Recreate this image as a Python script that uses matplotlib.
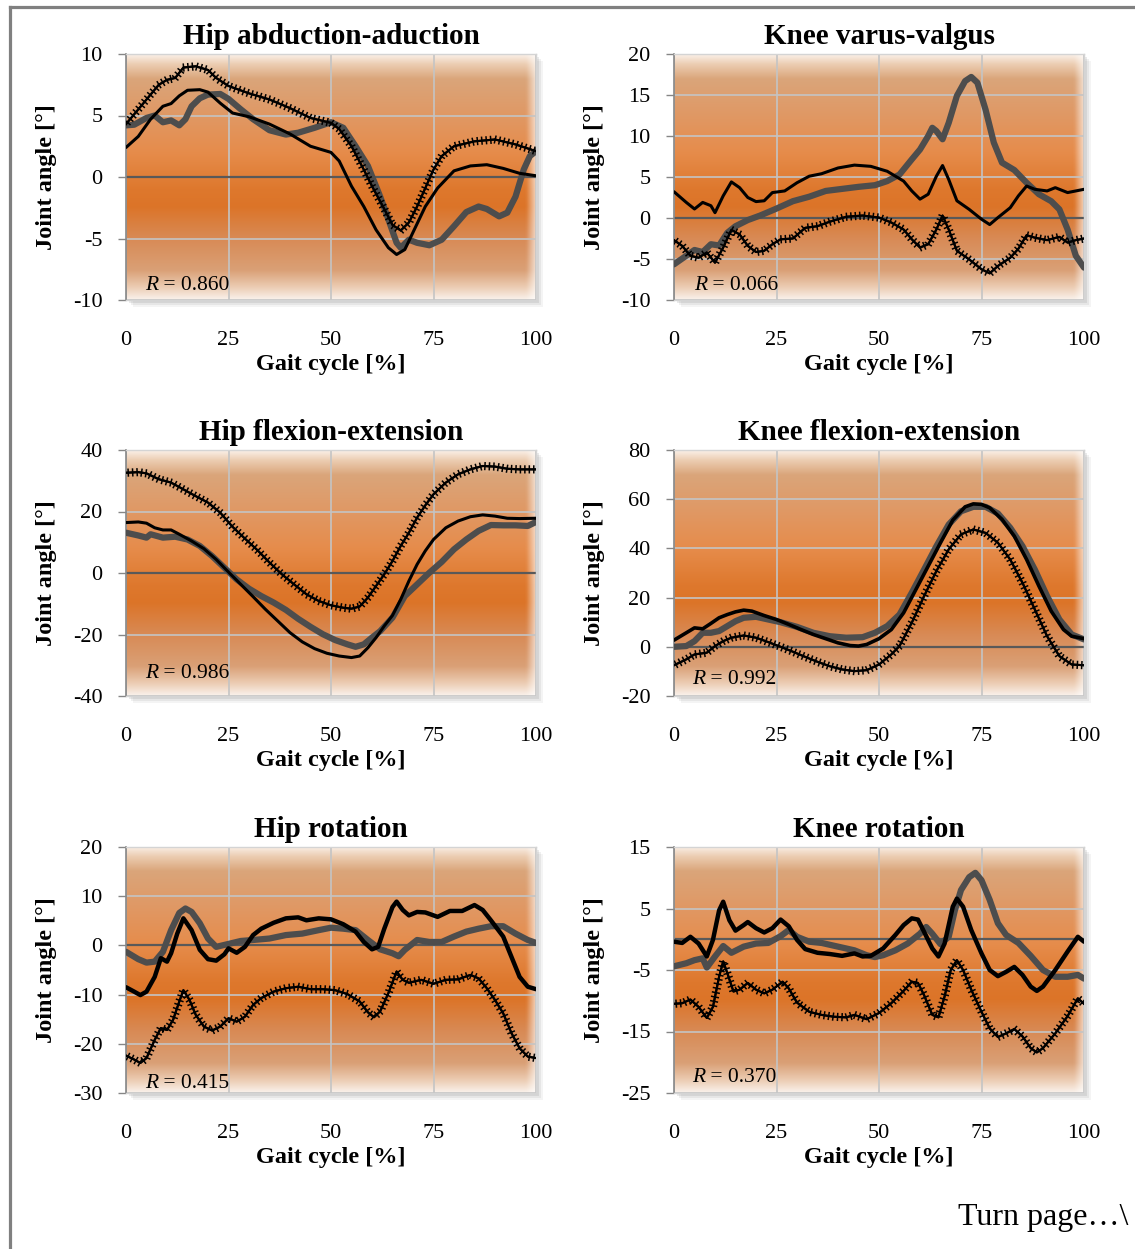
import numpy as np
import matplotlib
matplotlib.use("Agg")
import matplotlib.pyplot as plt
import matplotlib.patheffects as pe
from matplotlib.lines import Line2D
from matplotlib.patches import Rectangle
from matplotlib.transforms import ScaledTranslation

plt.rcParams['font.family'] = ['Liberation Serif', 'DejaVu Serif']
plt.rcParams['axes.unicode_minus'] = False

# ---------------- data ----------------
titles = ["Hip abduction-aduction", "Knee varus-valgus",
          "Hip flexion-extension", "Knee flexion-extension",
          "Hip rotation", "Knee rotation"]
r_values = ["0.860", "0.066", "0.986", "0.992", "0.415", "0.370"]
y_limits = [(-10, 10), (-10, 20), (-40, 40), (-20, 80), (-30, 20), (-25, 15)]
y_steps = [5, 5, 20, 20, 10, 10]
x_ticks = [0, 25, 50, 75, 100]
x_label = "Gait cycle [%]"
y_label = "Joint angle [°]"
footer = "Turn page…\\"

# Hip abduction-aduction
habd_gray_x = [0, 2, 5, 7, 9, 11, 13, 14.5, 16, 18, 20, 23, 25, 28, 31, 35, 39, 42, 46, 50,
               53, 56, 59, 62, 64, 66, 67, 69, 71, 74, 77, 80, 83, 86, 88, 91, 93, 95, 97, 98.5, 100]
habd_gray_y = [4.2, 4.25, 4.8, 5.0, 4.45, 4.6, 4.2, 4.7, 5.75, 6.4, 6.7, 6.75, 6.35, 5.5, 4.7, 3.8, 3.45, 3.6, 4.0, 4.45,
               4.0, 2.5, 0.9, -1.6, -3.45, -5.35, -5.75, -5.1, -5.35, -5.55, -5.1, -4.0, -2.85, -2.4, -2.6, -3.2, -2.9, -1.6, 0.6, 1.7, 2.1]
habd_black_x = [0, 3, 6, 9, 11, 13, 15, 18, 20, 23, 26, 30, 35, 40, 45, 50, 52, 55, 58, 61,
                64, 66, 68, 70, 73, 76, 80, 84, 88, 92, 96, 100]
habd_black_y = [2.4, 3.3, 4.7, 5.75, 5.97, 6.6, 7.05, 7.1, 6.9, 6.0, 5.2, 4.9, 4.3, 3.5, 2.5, 2.0, 1.3, -0.75, -2.4, -4.3,
                -5.75, -6.3, -5.9, -4.5, -2.4, -0.9, 0.5, 0.9, 1.0, 0.7, 0.3, 0.1]
habd_plus_x = [0, 5, 8, 10, 12, 14, 17, 20, 22, 25, 30, 35, 40, 45, 50, 52, 55, 58, 60, 63,
               65, 67, 69, 71, 73, 75, 77, 80, 85, 90, 95, 100]
habd_plus_y = [4.3, 6.3, 7.5, 7.9, 8.05, 8.9, 9.0, 8.7, 8.05, 7.4, 6.8, 6.3, 5.6, 4.8, 4.4, 3.9, 2.5, 0.6, -0.75, -2.6,
               -3.9, -4.35, -3.7, -2.4, -0.9, 0.6, 1.7, 2.5, 2.9, 3.05, 2.65, 2.1]

# Knee varus-valgus
kvv_gray_x = [0, 3, 5, 7, 9, 11, 13, 15, 18, 21, 25, 29, 33, 37, 41, 45, 49, 52, 55, 58,
              60, 62, 63, 64, 65.5, 67, 69, 71, 72.5, 74, 76, 78, 80, 83, 86, 89, 92, 94, 96, 98, 100]
kvv_gray_y = [-5.65, -4.6, -3.9, -4.15, -3.2, -3.35, -1.8, -1.0, -0.25, 0.3, 1.15, 2.05, 2.6, 3.3, 3.55, 3.8, 4.0, 4.5, 5.3, 7.15,
              8.35, 10.0, 11.0, 10.6, 9.6, 11.6, 14.9, 16.7, 17.2, 16.5, 13.2, 9.2, 6.75, 5.85, 4.3, 2.9, 2.05, 1.05, -1.4, -4.6, -6.05]
kvv_black_x = [0, 3, 5, 7, 9, 10, 12, 14, 16, 18, 20, 22, 24, 27, 30, 33, 36, 40, 44, 48,
               52, 56, 58, 60, 62, 64, 65.5, 67, 69, 72, 75, 77, 79, 82, 84, 86, 88, 91, 93, 96, 100]
kvv_black_y = [3.2, 1.9, 1.1, 1.9, 1.5, 0.65, 2.7, 4.4, 3.7, 2.5, 2.0, 2.1, 3.1, 3.3, 4.3, 5.1, 5.4, 6.1, 6.45, 6.3,
               5.7, 4.5, 3.3, 2.3, 2.9, 5.1, 6.4, 4.7, 2.1, 1.05, -0.15, -0.8, 0.05, 1.25, 2.7, 3.9, 3.5, 3.3, 3.7, 3.1, 3.5]
kvv_plus_x = [0, 2, 4, 6, 8, 10, 12, 14, 16, 18, 20, 22, 24, 26, 29, 32, 35, 38, 42, 46,
              50, 53, 56, 58, 60, 62, 64, 65.5, 67, 69, 72, 75, 77, 79, 82, 84, 86, 88, 91, 94, 96, 98, 100]
kvv_plus_y = [-2.7, -3.4, -4.6, -4.85, -4.2, -5.45, -3.6, -1.45, -2.0, -3.4, -4.15, -4.0, -3.2, -2.6, -2.5, -1.2, -1.0, -0.45, 0.15, 0.3,
              0.05, -0.55, -1.4, -2.6, -3.6, -3.2, -1.4, 0.3, -1.4, -4.0, -5.05, -6.25, -6.75, -5.85, -4.85, -3.75, -2.1, -2.4, -2.7, -2.3, -3.0, -2.7, -2.5]

# Hip flexion-extension
hfe_gray_x = [0, 3, 5, 6, 9, 12, 15, 18, 21, 24, 27, 30, 33, 36, 39, 42, 45, 48, 51, 54,
              56, 58, 60, 62, 65, 68, 71, 74, 77, 80, 83, 86, 89, 92, 95, 98, 100]
hfe_gray_y = [13.1, 12.2, 11.5, 12.6, 11.5, 11.8, 10.9, 8.8, 5.5, 1.7, -2.1, -5.1, -7.5, -9.6, -12.0, -14.9, -17.5, -19.9, -21.8, -23.2,
              -24.0, -23.2, -21.0, -18.9, -14.5, -7.5, -3.7, 0.1, 3.6, 7.7, 10.9, 13.7, 15.6, 15.5, 15.5, 15.3, 16.6]
hfe_black_x = [0, 3, 5, 7, 9, 11, 13, 16, 19, 22, 25, 28, 31, 34, 37, 40, 43, 46, 49, 52,
               55, 57, 59, 61, 63, 65, 67, 69, 71, 73, 75, 78, 81, 84, 87, 90, 93, 96, 100]
hfe_black_y = [16.4, 16.6, 16.2, 14.7, 14.0, 14.0, 12.6, 10.4, 7.9, 4.4, 0.3, -3.7, -7.7, -11.8, -15.6, -19.4, -22.4, -24.6, -26.1, -27.0,
               -27.5, -27.0, -24.3, -21.0, -17.2, -13.8, -8.6, -2.6, 2.8, 7.2, 10.9, 14.7, 16.9, 18.3, 18.9, 18.5, 17.8, 17.7, 17.8]
hfe_plus_x = [0, 3, 5, 8, 11, 14, 17, 20, 23, 26, 29, 32, 35, 38, 41, 44, 47, 50, 53, 55,
              57, 59, 61, 63, 65, 67, 69, 71, 73, 75, 78, 81, 84, 87, 90, 93, 96, 100]
hfe_plus_y = [32.6, 32.8, 32.4, 30.5, 29.4, 27.2, 25.0, 22.9, 19.6, 15.0, 11.2, 7.5, 3.4, -0.4, -3.7, -6.9, -9.1, -10.5, -11.3, -11.6,
              -10.9, -8.0, -4.2, -0.4, 3.9, 8.8, 13.1, 18.0, 22.0, 25.6, 29.4, 32.1, 33.7, 34.8, 34.6, 33.9, 33.7, 33.7]

# Knee flexion-extension
kfe_gray_x = [0, 3, 5, 7, 9, 11, 13, 15, 17, 20, 23, 26, 30, 34, 38, 42, 46, 49, 52, 55,
              58, 61, 64, 67, 70, 73, 76, 79, 82, 85, 88, 91, 94, 97, 100]
kfe_gray_y = [0, 0.3, 2.3, 5.7, 5.7, 6.4, 8.4, 10.4, 11.8, 12.2, 11.1, 10.0, 8.1, 5.7, 4.3, 3.7, 3.9, 5.7, 8.4, 13.1,
              22.0, 31.4, 40.9, 49.7, 55.1, 56.9, 56.9, 54.2, 48.4, 40.9, 31.4, 20.6, 11.1, 5.0, 3.0]
kfe_black_x = [0, 3, 5, 7, 9, 11, 13, 15, 17, 19, 22, 25, 28, 31, 34, 37, 40, 43, 45, 47,
               50, 53, 56, 59, 62, 65, 68, 71, 73, 75, 77, 80, 83, 86, 89, 92, 95, 97, 100]
kfe_black_y = [2.7, 5.7, 7.7, 7.3, 9.5, 11.8, 13.1, 14.2, 14.9, 14.5, 12.7, 11.1, 9.1, 7.0, 5.0, 3.3, 1.6, 0.5, 0.3, 0.95,
               3.3, 7.0, 13.8, 23.3, 32.8, 42.3, 51.5, 56.9, 58.1, 57.9, 56.5, 51.8, 45.0, 35.5, 24.7, 14.5, 7.0, 4.3, 3.3]
kfe_plus_x = [0, 3, 5, 8, 10, 12, 14, 17, 20, 23, 26, 29, 32, 35, 38, 41, 44, 47, 50, 53,
              55, 58, 61, 64, 67, 70, 73, 76, 79, 82, 85, 88, 91, 94, 97, 100]
kfe_plus_y = [-7.5, -5.1, -3.1, -2.4, 0.3, 2.3, 3.7, 4.6, 3.7, 1.9, 0, -2.0, -4.1, -6.1, -7.9, -9.2, -9.9, -9.5, -7.2, -3.1,
              0.3, 9.8, 20.6, 30.8, 39.6, 45.7, 47.7, 46.3, 42.3, 35.5, 26.0, 15.2, 4.3, -3.8, -7.2, -7.5]

# Hip rotation
hrot_gray_x = [0, 3, 5, 7, 9, 11, 13, 14.5, 16, 18, 20, 22, 25, 28, 31, 35, 39, 43, 47, 50,
               53, 56, 59, 62, 65, 66.5, 68, 71, 74, 77, 80, 83, 86, 89, 92, 95, 98, 100]
hrot_gray_y = [-1.3, -2.8, -3.5, -3.3, -1.3, 3.1, 6.6, 7.5, 6.8, 4.5, 1.4, -0.3, 0.3, 0.9, 1.1, 1.4, 2.1, 2.4, 3.1, 3.6,
               3.4, 3.1, 1.1, -0.8, -1.6, -2.2, -0.9, 1.1, 0.7, 0.7, 1.8, 2.8, 3.4, 3.9, 3.9, 2.4, 1.1, 0.5]
hrot_black_x = [0, 2, 3.5, 5, 7, 8.5, 10, 11, 12.5, 14, 16, 18, 20, 22, 24, 25, 27, 29, 31, 33,
                36, 39, 42, 44, 47, 50, 53, 56, 58, 60, 61.5, 63, 65, 66, 67.5, 69, 71, 73, 76, 79,
                82, 85, 87, 89, 92, 94, 96, 98, 100]
hrot_black_y = [-8.5, -9.4, -10.1, -9.4, -6.4, -2.6, -3.3, -1.6, 2.4, 5.5, 3.1, -0.9, -2.8, -3.1, -1.8, -0.6, -1.5, -0.3, 2.1, 3.4,
                4.6, 5.5, 5.7, 5.1, 5.5, 5.3, 4.3, 2.8, 0.7, -0.8, -0.3, 3.4, 7.8, 8.9, 7.2, 6.1, 6.8, 6.7, 5.8, 7.0,
                7.0, 8.2, 7.2, 5.1, 1.8, -2.3, -6.4, -8.4, -8.9]
hrot_plus_x = [0, 2, 3.5, 5, 7, 8.5, 10, 11.5, 13, 14, 15.5, 17, 19, 21, 23, 25, 27, 29, 31, 33,
               36, 39, 42, 45, 48, 51, 54, 57, 59, 60.5, 62, 64, 66, 67.5, 69, 72, 75, 78, 81, 84,
               86, 88, 90, 92, 94, 96, 98, 100]
hrot_plus_y = [-22.4, -23.2, -23.9, -22.9, -19.2, -16.8, -17.2, -15.1, -11.4, -9.1, -11.1, -14.1, -16.5, -17.3, -16.5, -14.8, -15.5, -14.5, -12.1, -10.7,
               -9.4, -8.7, -8.4, -8.9, -8.9, -9.1, -9.9, -11.4, -13.6, -14.6, -13.4, -9.7, -5.3, -7.0, -7.6, -7.0, -7.8, -7.0, -6.9, -6.0,
               -6.7, -8.7, -11.1, -13.8, -17.8, -20.9, -22.6, -22.9]

# Knee rotation
krot_gray_x = [0, 3, 5, 7, 8, 10, 12, 14, 17, 20, 23, 26, 28, 30, 33, 36, 40, 44, 47, 49,
               51, 54, 57, 60, 61.5, 63, 65, 67, 68.5, 70, 72, 73.5, 75, 77, 79, 81, 84, 87, 90, 93,
               96, 98.5, 100]
krot_gray_y = [-4.4, -3.9, -3.4, -3.1, -4.6, -2.8, -1.1, -2.2, -1.2, -0.7, -0.6, 0.5, 1.5, 0.4, -0.4, -0.6, -1.2, -1.8, -2.6, -2.9,
               -2.6, -1.8, -0.7, 0.9, 2.0, 0.9, -0.8, 0.4, 4.7, 8.0, 10.1, 10.8, 9.6, 6.4, 2.6, 0.7, -0.6, -2.7, -5.0, -6.1,
               -6.1, -5.8, -6.4]
krot_black_x = [0, 2, 4, 6, 8, 9.5, 11, 12, 13.5, 15, 17, 18, 20, 22, 24, 26, 28, 30, 32, 35,
                38, 41, 44, 46, 48, 51, 54, 56, 58, 59.5, 61, 63, 64.5, 66, 68, 69, 70.5, 72.5, 75, 77,
                79, 81, 83, 85, 87, 88.5, 90, 93, 96, 98.5, 100]
krot_black_y = [-0.4, -0.6, 0.4, -0.7, -2.8, -0.1, 4.7, 6.1, 3.1, 1.4, 2.3, 2.8, 1.8, 1.1, 1.8, 3.2, 2.1, -0.1, -1.6, -2.2,
                -2.4, -2.7, -2.3, -2.8, -2.7, -1.5, 0.7, 2.3, 3.4, 3.2, 1.2, -1.5, -2.8, -0.7, 5.3, 6.6, 5.3, 1.5, -2.3, -5.0,
                -6.0, -5.3, -4.5, -5.8, -7.7, -8.4, -7.7, -5.0, -2.0, 0.4, -0.4]
krot_plus_x = [0, 2, 4, 6, 8, 9.5, 11, 12, 13, 14.5, 16, 18, 20, 22, 24, 26.5, 28, 30, 33, 36,
               39, 42, 44, 47, 50, 53, 56, 58, 59.5, 61, 63, 64.5, 66, 67.5, 69, 70.5, 72.5, 75, 77, 79,
               81, 83, 85, 87, 88.5, 90, 93, 96, 98.5, 100]
krot_plus_y = [-10.5, -10.4, -9.8, -11.0, -12.8, -11.0, -6.1, -3.6, -5.5, -8.5, -8.2, -7.1, -8.2, -8.8, -8.2, -6.9, -8.0, -10.3, -11.8, -12.3,
               -12.6, -12.7, -12.3, -13.0, -12.0, -10.4, -8.4, -6.9, -7.1, -9.1, -12.3, -12.7, -9.3, -5.0, -3.4, -5.0, -8.2, -11.8, -14.5, -15.9,
               -15.3, -14.6, -15.8, -17.7, -18.4, -17.7, -15.3, -12.5, -9.6, -10.5]

series = [
    (habd_gray_x, habd_gray_y, habd_black_x, habd_black_y, habd_plus_x, habd_plus_y),
    (kvv_gray_x, kvv_gray_y, kvv_black_x, kvv_black_y, kvv_plus_x, kvv_plus_y),
    (hfe_gray_x, hfe_gray_y, hfe_black_x, hfe_black_y, hfe_plus_x, hfe_plus_y),
    (kfe_gray_x, kfe_gray_y, kfe_black_x, kfe_black_y, kfe_plus_x, kfe_plus_y),
    (hrot_gray_x, hrot_gray_y, hrot_black_x, hrot_black_y, hrot_plus_x, hrot_plus_y),
    (krot_gray_x, krot_gray_y, krot_black_x, krot_black_y, krot_plus_x, krot_plus_y),
]

# ---------------- layout / style ----------------
W, H = 1135, 1249
fig = plt.figure(figsize=(W / 100, H / 100), dpi=100)
fig.patch.set_facecolor("white")

col_left = [126, 674]
row_top = [54, 450, 847]
ax_w, ax_h = 410, 246
black_lw = [2.2, 2.2, 2.2, 2.6, 3.2, 3.2]
r_pos = [(0.046, 0.06), (0.049, 0.06), (0.046, 0.093), (0.044, 0.069), (0.046, 0.04), (0.044, 0.065)]

# orange gradient of the plot area (top -> bottom)
grad_stops = [0, .04, .10, .25, .40, .55, .62, .75, .88, .95, 1]
grad_cols = np.array([(250, 240, 232), (236, 205, 178), (218, 165, 122), (224, 152, 100),
                      (230, 140, 75), (222, 120, 45), (220, 116, 40), (216, 138, 85),
                      (218, 160, 118), (236, 205, 180), (250, 242, 236)]) / 255.0


def panel_background(ax):
    t = np.linspace(0, 1, 300)
    col = np.stack([np.interp(t, grad_stops, grad_cols[:, i]) for i in range(3)], axis=-1)
    img = np.repeat(col[:, None, :], 200, axis=1)
    u = np.linspace(0, 1, 200)
    fade = (np.clip((u - 0.978) / 0.022, 0, 1) * 0.6)[None, :, None]
    img = img * (1 - fade) + fade
    ax.imshow(img, extent=(0, 1, 0, 1), transform=ax.transAxes, aspect='auto',
              interpolation='bilinear', zorder=0)
    # soft drop shadow
    for k, a in [(7, .07), (5, .10), (3, .14)]:
        off = ScaledTranslation(k / 100, -k / 100, fig.dpi_scale_trans)
        ax.add_patch(Rectangle((0, 0), 1, 1, transform=ax.transAxes + off, facecolor='#707070',
                               edgecolor='none', alpha=a, zorder=-1, clip_on=False))


plus_fx = [pe.withTickedStroke(spacing=3.2, angle=90, length=0.75, linewidth=1.1),
           pe.withTickedStroke(spacing=3.2, angle=-90, length=0.75, linewidth=1.1)]

for i in range(6):
    r, c = divmod(i, 2)
    left = col_left[c] / W
    bottom = 1 - (row_top[r] + ax_h) / H
    ax = fig.add_axes([left, bottom, ax_w / W, ax_h / H])
    ax.patch.set_visible(False)
    panel_background(ax)

    gx, gy, bx, by, px, py = series[i]
    ax.plot(gx, gy, color='#4d4d4d', lw=4.5, solid_capstyle='round', solid_joinstyle='round', zorder=3)
    ax.plot(bx, by, color='black', lw=black_lw[i], solid_capstyle='round', solid_joinstyle='round', zorder=4)
    ax.plot(px, py, color='black', lw=1.5, zorder=5, path_effects=plus_fx)
    ax.axhline(0, color='#595959', lw=1.6, zorder=1.8)

    lo, hi = y_limits[i]
    ax.set_xlim(0, 100)
    ax.set_ylim(lo, hi)
    ax.set_xticks(x_ticks)
    ax.set_yticks(np.arange(lo, hi + 0.1, y_steps[i]))
    ax.grid(True, color='#c4c4c4', lw=1.2, zorder=1.5)

    ax.tick_params(axis='y', length=6, width=1.0, color='#868686', pad=11, labelsize=16)
    ax.tick_params(axis='x', length=0, pad=22, labelsize=16)
    ax.spines['left'].set_color('#868686')
    ax.spines['left'].set_linewidth(1.2)
    for s in ['right', 'top', 'bottom']:
        ax.spines[s].set_color('#d4d4d4')
        ax.spines[s].set_linewidth(1.0)

    ax.set_title(titles[i], fontsize=21, fontweight='bold', pad=7)
    ax.set_xlabel(x_label, fontsize=17.5, fontweight='bold', labelpad=3)
    ax.set_ylabel(y_label, fontsize=17.5, fontweight='bold', labelpad=11)

    rt = ax.text(r_pos[i][0], r_pos[i][1], "R", style='italic', fontsize=15.5,
                 transform=ax.transAxes, va='center', ha='left', zorder=6)
    ax.annotate(" = " + r_values[i], xy=(1, 0), xycoords=rt, va='bottom', ha='left',
                fontsize=15.5, zorder=6)

# page frame
fig.add_artist(Line2D([10 / W, 1], [1 - 7 / H, 1 - 7 / H], color='#808080', lw=2.3))
fig.add_artist(Line2D([10 / W, 10 / W], [0, 1 - 7 / H], color='#808080', lw=2.3))

fig.text(1128 / W, 1 - 1218 / H, footer, ha='right', va='center', fontsize=23)

fig.savefig("out.png", dpi=100)
